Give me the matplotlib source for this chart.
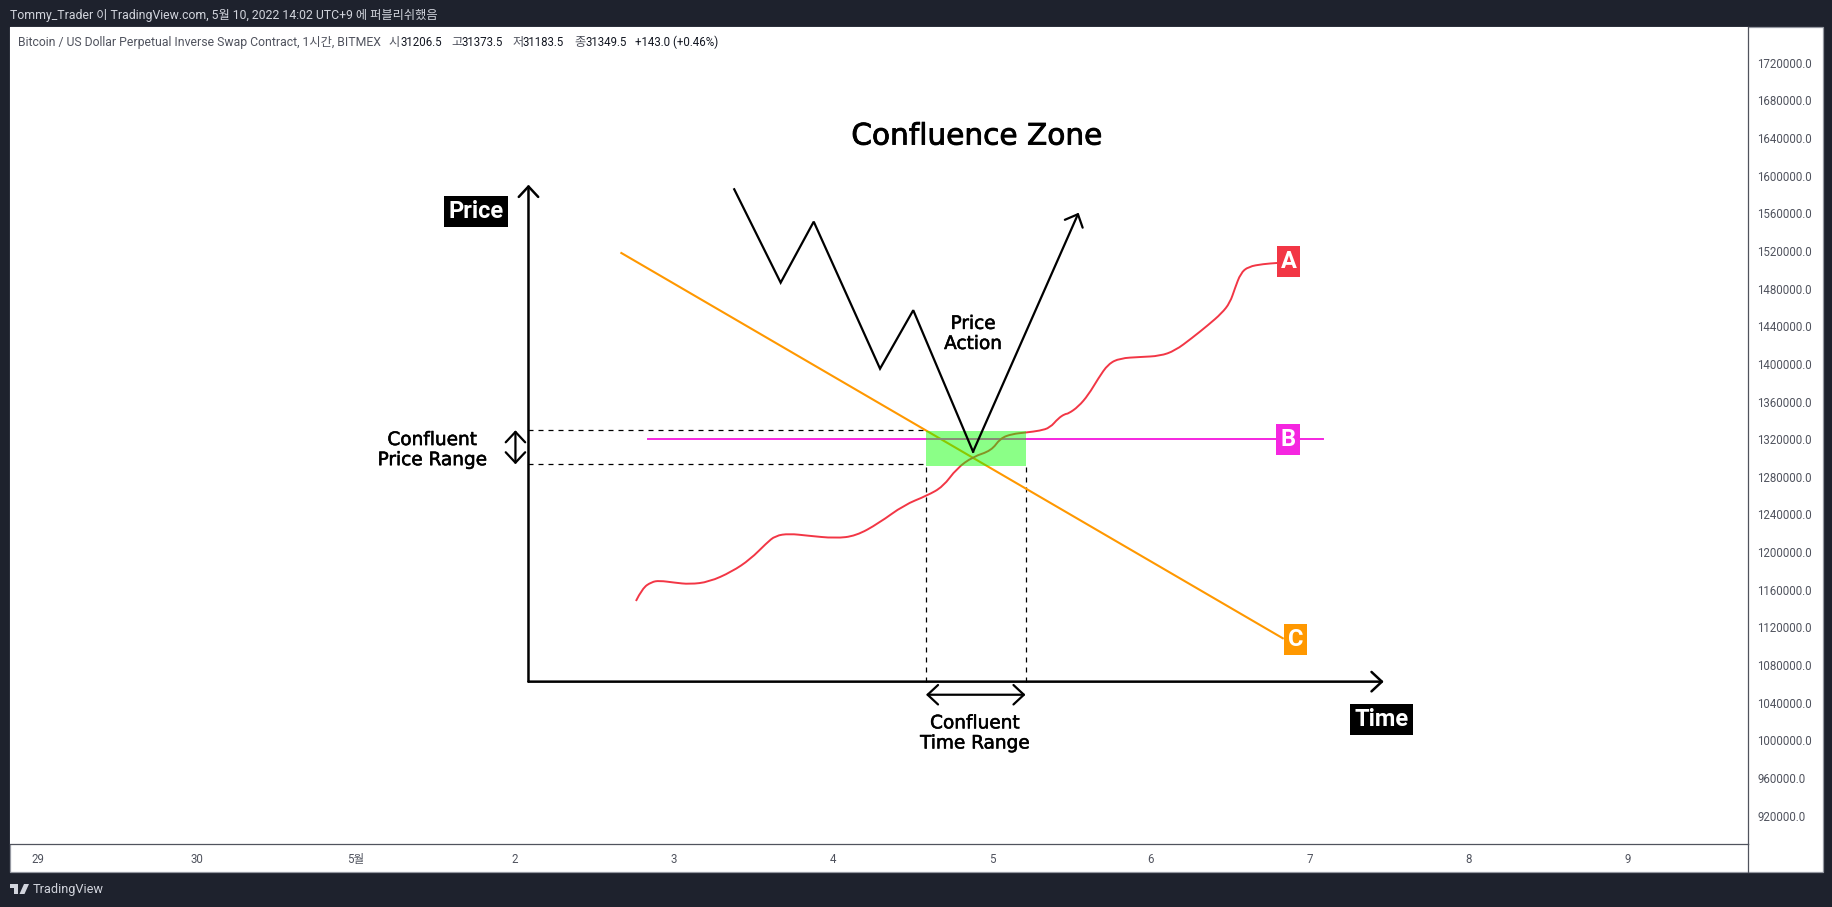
import matplotlib
matplotlib.use("Agg")
import matplotlib.pyplot as plt
import matplotlib.patheffects as pe
from matplotlib.patches import Rectangle, Polygon, PathPatch
from matplotlib.path import Path
from matplotlib.lines import Line2D

W, H = 1833, 907

plt.rcParams['font.family'] = ['Roboto', 'Noto Sans CJK KR', 'DejaVu Sans']

# =========================================================
# DATA
# =========================================================
x_ticks = [0, 1, 2, 3, 4, 5, 6, 7, 8, 9, 10]
x_labels = ["29", "30", "5월", "2", "3", "4", "5", "6", "7", "8", "9"]
y_ticks = [920000 + 40000 * i for i in range(21)]

red_day = [3.761, 3.801, 3.859, 3.908, 4.003, 4.099, 4.220, 4.364, 4.480, 4.581,
           4.638, 4.725, 4.840, 5.014, 5.144, 5.288, 5.447, 5.591, 5.692, 5.779,
           5.881, 5.996, 6.053, 6.126, 6.214, 6.302, 6.365, 6.417, 6.459, 6.480,
           6.543, 6.606, 6.669, 6.731, 6.805, 6.931, 7.057, 7.151, 7.256, 7.360,
           7.445, 7.497, 7.528, 7.564, 7.612, 7.706, 7.794]
red_price = [1148100, 1161600, 1168300, 1169700, 1167600, 1165900, 1168300, 1179200,
             1192400, 1209400, 1217500, 1219600, 1217500, 1214700, 1217200, 1230700,
             1250100, 1260000, 1269500, 1289100, 1301400, 1307800, 1321000, 1325500,
             1327100, 1329000, 1332200, 1342200, 1346800, 1347100, 1354500, 1367000,
             1384700, 1399900, 1406000, 1407300, 1408400, 1414000, 1427200, 1441300,
             1453800, 1465000, 1480300, 1496300, 1503300, 1506100, 1507200]

action_day = [4.379, 4.671, 4.879, 5.296, 5.505, 5.881, 6.545]
action_price = [1585500, 1486300, 1551100, 1394900, 1457000, 1306700, 1560600]

orange_day = [3.669, 7.829]
orange_price = [1517800, 1108500]

magenta_day = [3.836, 8.084]
magenta_price = [1320200, 1320200]

zone_day = [5.585, 6.211]
zone_price = [1291900, 1328700]
dash_price = [1293300, 1329500]

axis_day = [3.085, 8.464]
axis_price = [1062400, 1590400]

header_text = "Tommy_Trader 이 TradingView.com, 5월 10, 2022 14:02 UTC+9 에 퍼블리쉬했음"
legend_parts = ["Bitcoin / US Dollar Perpetual Inverse Swap Contract, 1시간, BITMEX",
                "시", "31206.5", "고", "31373.5", "저", "31183.5", "종", "31349.5",
                "+143.0 (+0.46%)"]
legend_px = [18, 388, 401, 451.5, 462, 513, 523, 574, 585, 635]
legend_cols = ['#50535e', '#50535e', '#131722', '#50535e', '#131722',
               '#50535e', '#131722', '#50535e', '#131722', '#131722']
legend_sizes = [8.8, 8.8, 8.3, 8.8, 8.3, 8.8, 8.3, 8.8, 8.3, 8.3]


def fx(x):
    return x / W


def fy(y):
    return 1 - y / H


# =========================================================
# FRAME
# =========================================================
fig = plt.figure(figsize=(W / 100, H / 100), dpi=100, facecolor='#1e222d')

fig.add_artist(Rectangle((fx(10.3), fy(871.7)), fx(1812.4), (871.7 - 27) / H,
                         facecolor='white', edgecolor='#9598a1', linewidth=0.9,
                         transform=fig.transFigure, zorder=-1))

ax = fig.add_axes([fx(10.3), fy(844.3), fx(1737.4), (844.3 - 27) / H], facecolor='white')
ax.set_xlim(-0.174, 10.753)
ax.set_ylim(889600, 1757900)

for side in ['top', 'left']:
    ax.spines[side].set_visible(False)
for side in ['right', 'bottom']:
    ax.spines[side].set_color('#50535e')
    ax.spines[side].set_linewidth(0.9)

ax.yaxis.tick_right()
ax.set_yticks(y_ticks)
ax.set_yticklabels([f"{v:.1f}" for v in y_ticks], fontsize=8.3, color='#50535e')
ax.set_xticks(x_ticks)
ax.set_xticklabels(x_labels, fontsize=8.3, color='#50535e')
ax.tick_params(axis='y', length=0, pad=6.7)
ax.tick_params(axis='x', length=0, pad=6)

fig.add_artist(Line2D([fx(1747.7), fx(1747.7)], [fy(844.3), fy(871.7)],
                      color='#50535e', linewidth=0.9))

# =========================================================
# LINES
# =========================================================
ax.plot(orange_day, orange_price, color='#ff9800', linewidth=1.5, zorder=2)
ax.plot(magenta_day, magenta_price, color='#f526e0', linewidth=1.4, zorder=2)

# red line is hand drawn in the original, so round it off with quadratic segments
pts = list(zip(red_day, red_price))
verts = [pts[0]]
codes = [Path.MOVETO]
for i in range(1, len(pts) - 1):
    mid = ((pts[i][0] + pts[i + 1][0]) / 2, (pts[i][1] + pts[i + 1][1]) / 2)
    verts += [pts[i], mid]
    codes += [Path.CURVE3, Path.CURVE3]
verts.append(pts[-1])
codes.append(Path.LINETO)
ax.add_patch(PathPatch(Path(verts, codes), facecolor='none', edgecolor='#f23645',
                       linewidth=1.4, zorder=2))

ax.fill_between(zone_day, zone_price[0], zone_price[1], color='#0aff00', alpha=0.47,
                linewidth=0, zorder=3)

dash = (0, (4, 4))
for p in dash_price:
    ax.plot([axis_day[0], zone_day[0]], [p, p], color='black', linewidth=0.9,
            linestyle=dash, zorder=1)
for d in zone_day:
    ax.plot([d, d], [axis_price[0], zone_price[0]], color='black', linewidth=0.9,
            linestyle=dash, zorder=1)

ax.plot(action_day[:-1], action_price[:-1], color='black', linewidth=1.6, zorder=4,
        solid_joinstyle='miter')


def arrow(start, end, style, lw):
    ax.annotate("", xy=end, xytext=start,
                arrowprops=dict(arrowstyle=style, color='black', linewidth=lw,
                                shrinkA=0, shrinkB=0, mutation_scale=1), zorder=4)


head = "head_length=7.5,head_width=7"
arrow((action_day[-2], action_price[-2]), (action_day[-1], action_price[-1]),
      "->," + head, 1.6)
arrow((axis_day[0], axis_price[0]), (axis_day[0], axis_price[1]), "->," + head, 1.8)
arrow((axis_day[0], axis_price[0]), (axis_day[1], axis_price[0]), "->," + head, 1.8)
arrow((3.003, dash_price[0]), (3.003, dash_price[1]), "<->," + head, 1.6)
arrow((zone_day[0], 1048500), (zone_day[1], 1048500), "<->," + head, 1.6)

# =========================================================
# TEXT
# =========================================================
dj = 'DejaVu Sans'
bolder = [pe.withStroke(linewidth=0.4, foreground='black')]
ax.text(5.905, 1642000, "Confluence Zone", fontsize=21.3, family=dj, color='black',
        ha='center', va='center',
        path_effects=[pe.withStroke(linewidth=0.6, foreground='black')])
ax.text(5.881, 1431800, "Price\nAction", fontsize=13.3, family=dj, ha='center',
        va='center', linespacing=1.15, path_effects=bolder)
ax.text(2.48, 1308400, "Confluent\nPrice Range", fontsize=13.3, family=dj, ha='center',
        va='center', linespacing=1.15, path_effects=bolder)
ax.text(5.893, 1007400, "Confluent\nTime Range", fontsize=13.3, family=dj, ha='center',
        va='center', linespacing=1.15, path_effects=bolder)


def tag(x, y, txt, col):
    ax.text(x, y, txt, fontsize=17, color='white', fontweight='bold',
            ha='center', va='center', zorder=5,
            bbox=dict(boxstyle='square,pad=0.17', facecolor=col, edgecolor='none'))


tag(7.865, 1508300, "A", '#f23645')
tag(7.862, 1319200, "B", '#f526e0')
tag(7.909, 1106700, "C", '#ff9800')
tag(2.755, 1561900, "Price", 'black')
tag(8.450, 1022700, "Time", 'black')

fig.text(fx(10), fy(15), header_text, fontsize=8.8, color='#d1d4dc', va='center')
for txt, x, col, sz in zip(legend_parts, legend_px, legend_cols, legend_sizes):
    fig.text(fx(x), fy(42.3), txt, fontsize=sz, color=col, va='center')

# TradingView logo
logo = '#d1d4dc'
fig.add_artist(Polygon([(fx(10), fy(884)), (fx(18.5), fy(884)), (fx(18.5), fy(894)),
                        (fx(14), fy(894)), (fx(14), fy(888)), (fx(10), fy(888))],
                       closed=True, facecolor=logo, edgecolor='none',
                       transform=fig.transFigure))
fig.add_artist(Polygon([(fx(24), fy(884)), (fx(29), fy(884)), (fx(24.5), fy(894)),
                        (fx(19.5), fy(894))],
                       closed=True, facecolor=logo, edgecolor='none',
                       transform=fig.transFigure))
fig.text(fx(33), fy(889.5), "TradingView", fontsize=9.2, color=logo, va='center')

fig.savefig("out.png", dpi=100, facecolor=fig.get_facecolor())
